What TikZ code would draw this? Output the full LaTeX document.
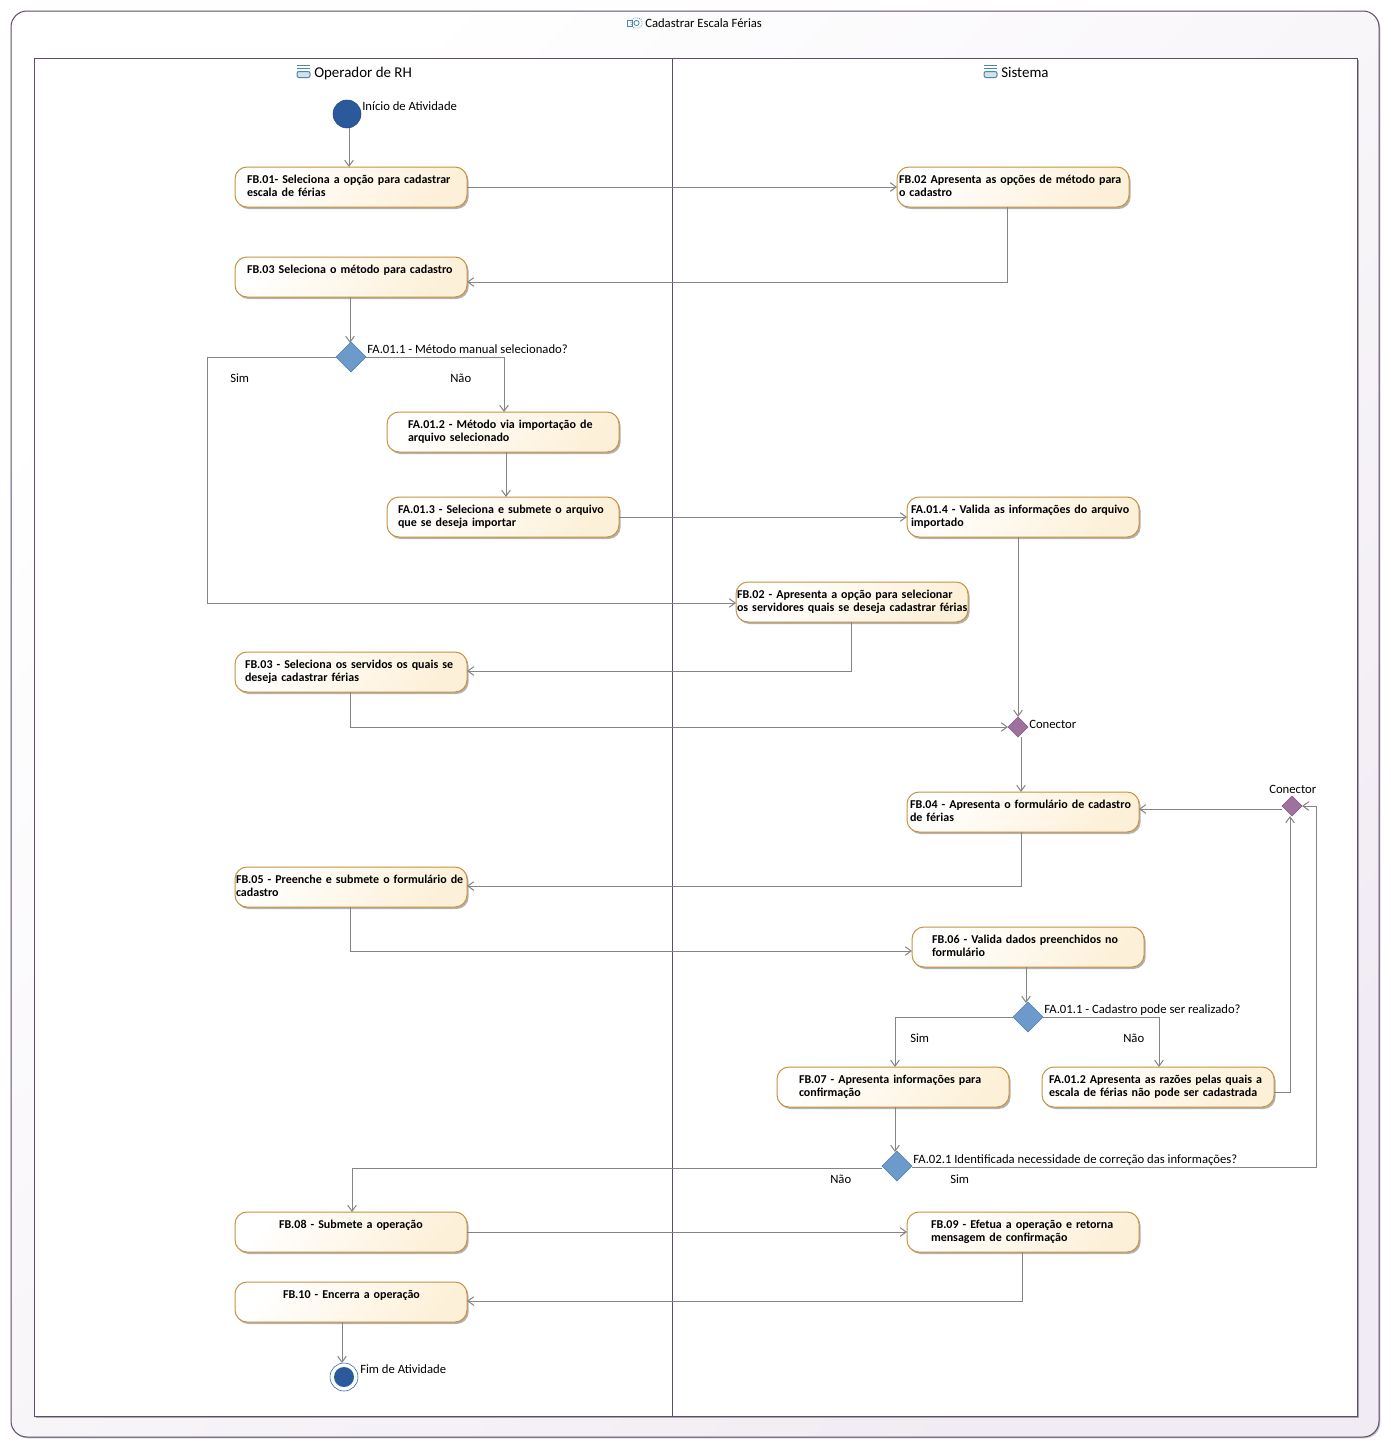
\documentclass[tikz,border=0pt]{standalone}
\usepackage{fontspec}
\setmainfont{Carlito}
\usetikzlibrary{arrows.meta,shapes.geometric,shadows}

\definecolor{contorno}{HTML}{5E4A6A}
\definecolor{lilas}{HTML}{F1ECF3}
\definecolor{linha}{HTML}{858585}
\definecolor{borda}{HTML}{C8933F}
\definecolor{creme}{HTML}{FDF0D8}
\definecolor{azul}{HTML}{6C9BCB}
\definecolor{azulb}{HTML}{4F7FAE}
\definecolor{roxo}{HTML}{A0709F}
\definecolor{marinho}{HTML}{2A5A9C}
\definecolor{icone}{HTML}{4A86AD}

\tikzset{
    recuo/.style={execute at begin node={\leftskip=#1pt\rightskip=-20pt plus 1fil\relax}},
    acao/.style={draw=borda, line width=.75pt, rounded corners=9pt, left color=white, right color=creme,
        shading angle=45, drop shadow={shadow xshift=1.2pt, shadow yshift=-1.5pt, fill=black, opacity=.3},
        anchor=north west, outer sep=0pt, inner xsep=0pt, inner ysep=0pt, text width=174pt, align=left,
        text height=12pt, text depth=18pt, font=\bfseries\fontsize{9}{9.75}\selectfont},
    decisao/.style={draw=azulb, fill=azul, diamond, minimum width=22.5pt, minimum height=22.5pt, inner sep=0pt, outer sep=0pt},
    conector/.style={draw=roxo!80!black, fill=roxo, diamond, minimum width=15pt, minimum height=15pt, inner sep=0pt, outer sep=0pt},
    rotulo/.style={anchor=base west, inner sep=0pt, font=\fontsize{9.5}{11}\selectfont},
    fluxo/.style={draw=linha, line width=.75pt, ->, >={Straight Barb[length=4.5pt,width=6.5pt]}},
    raia/.style={draw=contorno, line width=.75pt},
    pics/iconeraia/.style={code={
        \draw[icone, line width=.75pt] (0,0) -- (13,0);
        \draw[icone, line width=.75pt] (0,3) -- (13,3);
        \draw[icone, line width=.75pt, fill=icone!25, rounded corners=1.5pt] (0,6) rectangle (13,12);
    }}
}

\begin{document}
\begin{tikzpicture}[x=0.75pt, y=-0.75pt]
    \useasboundingbox (0,0) rectangle (1391,1449);

    % moldura e raias
    \draw[raia, rounded corners=12pt, left color=white, right color=lilas, shading angle=45,
        drop shadow={shadow xshift=1pt, shadow yshift=-1pt, fill=black, opacity=.25}] (11,11) rectangle (1379,1437);
    \draw[raia, fill=white, drop shadow={shadow xshift=1.5pt, shadow yshift=-1.5pt, fill=black, opacity=.3}] (34,58) rectangle (1357,1416);
    \draw[raia] (672,58) -- (672,1416);

    % cabecalhos
    \draw[icone, line width=.6pt] (627,20.5) rectangle (632.5,26);
    \draw[icone, line width=.6pt, densely dotted, rounded corners=3pt] (631,18) rectangle (642,28);
    \draw[icone, line width=.6pt] (636.5,23) circle (2.6);
    \node[rotulo] (titulo) at (645,27) {Cadastrar Escala Férias};
    \pic at (297,65.5) {iconeraia};
    \node[rotulo, font=\fontsize{11.2}{13}\selectfont] (operador) at (314,77) {Operador de RH};
    \pic at (984,65.5) {iconeraia};
    \node[rotulo, font=\fontsize{11.2}{13}\selectfont] (sistema) at (1001,77) {Sistema};

    % Operador de RH
    \node[draw=marinho!80!black, fill=marinho, circle, minimum size=21pt, inner sep=0pt, outer sep=0pt] (inicio) at (347,114) {};
    \node[rotulo] at (362,110) {Início de Atividade};
    \node[acao, recuo=9] (fb01) at (235,167) {FB.01- Seleciona a opção para cadastrar\\escala de férias};
    \node[acao, recuo=9] (fb03) at (235,257) {FB.03 Seleciona o método para cadastro};
    \node[decisao] (dec1) at (351,357) {};
    \node[rotulo] at (367,353) {FA.01.1 - Método manual selecionado?};
    \node[rotulo] at (230,382) {Sim};
    \node[rotulo] at (450,382) {Não};
    \node[acao, recuo=15.75] (fa012) at (387,412) {FA.01.2 - Método via importação de\\arquivo selecionado};
    \node[acao, recuo=8.25] (fa013) at (387,497) {FA.01.3 - Seleciona e submete o arquivo\\que se deseja importar};
    \node[acao, recuo=7.5] (fb03b) at (235,652) {FB.03 - Seleciona os servidos os quais se\\deseja cadastrar férias};
    \node[acao, recuo=.75] (fb05) at (235,867) {FB.05 - Preenche e submete o formulário de\\cadastro};
    \node[acao, recuo=33] (fb08) at (235,1212) {FB.08 - Submete a operação};
    \node[acao, recuo=36] (fb10) at (235,1282) {FB.10 - Encerra a operação};
    \node[draw=marinho, fill=white, circle, minimum size=21pt, inner sep=0pt, outer sep=0pt] (fim) at (344,1377) {};
    \node[fill=marinho, circle, minimum size=15pt, inner sep=0pt] (fimmeio) at (344,1377) {};
    \node[rotulo] at (360,1373) {Fim de Atividade};

    % Sistema
    \node[acao, recuo=1.5] (fb02) at (897,167) {FB.02 Apresenta as opções de método para\\o cadastro};
    \node[acao, recuo=3] (fa014) at (907,497) {FA.01.4 - Valida as informações do arquivo\\importado};
    \node[acao, recuo=.75] (fb02b) at (736,582) {FB.02 - Apresenta a opção para selecionar\\os servidores quais se deseja cadastrar férias};
    \node[conector] (con1) at (1018,727) {};
    \node[rotulo] at (1029,728) {Conector};
    \node[acao, recuo=2.25] (fb04) at (907,792) {FB.04 - Apresenta o formulário de cadastro\\de férias};
    \node[conector] (con2) at (1292,806) {};
    \node[rotulo] at (1269,793) {Conector};
    \node[acao, recuo=15] (fb06) at (912,927) {FB.06 - Valida dados preenchidos no\\formulário};
    \node[decisao] (dec2) at (1028,1017) {};
    \node[rotulo] at (1044,1013) {FA.01.1 - Cadastro pode ser realizado?};
    \node[rotulo] at (910,1042) {Sim};
    \node[rotulo] at (1123,1042) {Não};
    \node[acao, recuo=16.5] (fb07) at (777,1067) {FB.07 - Apresenta informações para\\confirmação};
    \node[acao, recuo=5.25] (fa012b) at (1042,1067) {FA.01.2 Apresenta as razões pelas quais a\\escala de férias não pode ser cadastrada};
    \node[decisao] (dec3) at (897,1166) {};
    \node[rotulo] at (913,1163) {FA.02.1 Identificada necessidade de correção das informações?};
    \node[rotulo] at (830,1183) {Não};
    \node[rotulo] at (950,1183) {Sim};
    \node[acao, recuo=18] (fb09) at (907,1212) {FB.09 - Efetua a operação e retorna\\mensagem de confirmação};

    % fluxos
    \draw[fluxo] ([shift={(2,0)}]inicio.south) -- ([shift={(-2,0)}]fb01.north);
    \draw[fluxo] (fb01) -- (fb02);
    \draw[fluxo] ([shift={(-6,0)}]fb02.south) |- ([shift={(0,5)}]fb03.east);
    \draw[fluxo] ([shift={(-1,0)}]fb03.south) -- ([shift={(-1,1)}]dec1.north);
    \draw[fluxo] (dec1.west) -- ++(-129,0) |- ([shift={(0,1)}]fb02b.west);
    \draw[fluxo] (dec1.east) -| ([shift={(1,0)}]fa012.north);
    \draw[fluxo] ([shift={(3,0)}]fa012.south) -- ([shift={(3,0)}]fa013.north);
    \draw[fluxo] (fa013) -- (fa014);
    \draw[fluxo] ([shift={(-5,0)}]fa014.south) -- (con1.north);
    \draw[fluxo] ([shift={(-1,0)}]fb02b.south) |- ([shift={(0,-1)}]fb03b.east);
    \draw[fluxo] ([shift={(-1,0)}]fb03b.south) |- (con1.west);
    \draw[fluxo] ([shift={(3,0)}]con1.south) -- ([shift={(-2,0)}]fb04.north);
    \draw[fluxo] ([shift={(-10,3)}]con2.center) -- ([shift={(0,-3)}]fb04.east);
    \draw[fluxo] ([shift={(-2,0)}]fb04.south) |- ([shift={(0,-1)}]fb05.east);
    \draw[fluxo] ([shift={(-1,0)}]fb05.south) |- ([shift={(0,4)}]fb06.west);
    \draw[fluxo] ([shift={(-2,0)}]fb06.south) -- ([shift={(-2,1)}]dec2.north);
    \draw[fluxo] (dec2.west) -| ([shift={(2,0)}]fb07.north);
    \draw[fluxo] (dec2.east) -| ([shift={(1,0)}]fa012b.north);
    \draw[fluxo] ([shift={(0,5)}]fa012b.east) -| ([shift={(-2,0)}]con2.south);
    \draw[fluxo] ([shift={(2,0)}]fb07.south) -- ([shift={(-2,1)}]dec3.north);
    \draw[fluxo] ([shift={(0,2)}]dec3.west) -| ([shift={(1,0)}]fb08.north);
    \draw[fluxo] ([shift={(0,1)}]dec3.east) -- ++(404,0) |- (con2.east);
    \draw[fluxo] (fb08) -- (fb09);
    \draw[fluxo] ([shift={(-1,0)}]fb09.south) |- ([shift={(0,-1)}]fb10.east);
    \draw[fluxo] ([shift={(-9,0)}]fb10.south) -- ([shift={(-2,0)}]fim.north);
\end{tikzpicture}
\end{document}
